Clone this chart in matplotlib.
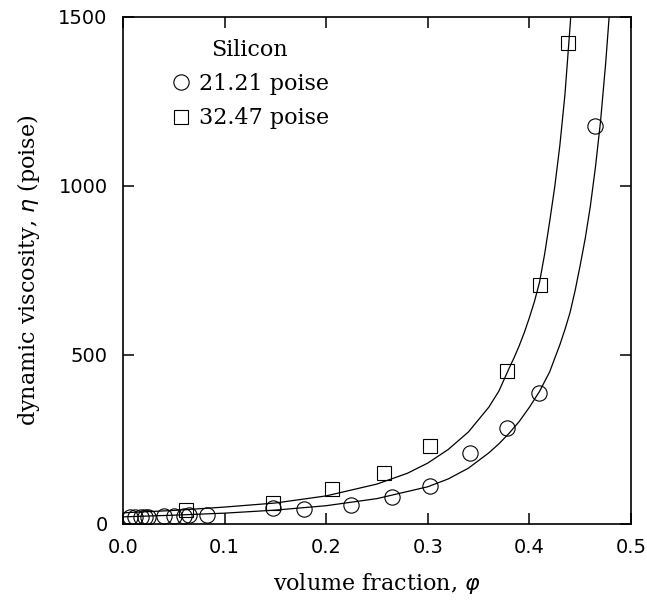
import matplotlib
matplotlib.use("Agg")
import matplotlib.pyplot as plt

# measured points, eta in poise
phi_21 = [0.007, 0.012, 0.018, 0.022, 0.025, 0.040, 0.050, 0.060, 0.065, 0.083,
          0.148, 0.178, 0.224, 0.265, 0.302, 0.342, 0.378, 0.409, 0.465]
eta_21 = [21, 21, 22, 22, 22, 23, 24, 25, 26, 27,
          46, 43, 55, 81, 112, 211, 283, 388, 1176]

phi_32 = [0.062, 0.148, 0.206, 0.257, 0.302, 0.378, 0.410, 0.438]
eta_32 = [42, 62, 102, 150, 230, 453, 706, 1421]

# fitted curves
fit_phi_21 = [0, 0.05, 0.10, 0.15, 0.20, 0.25, 0.30, 0.32, 0.34, 0.36, 0.37,
              0.38, 0.39, 0.40, 0.41, 0.42, 0.43, 0.435, 0.44, 0.445, 0.45,
              0.455, 0.46, 0.465, 0.47, 0.475, 0.48]
fit_eta_21 = [21, 26, 32, 41, 54, 75, 110, 133, 165, 210, 237,
              268, 303, 345, 392, 450, 530, 575, 625, 690, 765,
              845, 940, 1055, 1190, 1360, 1560]

fit_phi_32 = [0, 0.05, 0.10, 0.15, 0.20, 0.25, 0.28, 0.30, 0.32, 0.34, 0.36,
              0.37, 0.38, 0.385, 0.39, 0.395, 0.40, 0.405, 0.41, 0.415, 0.42,
              0.425, 0.43, 0.435, 0.44, 0.445]
fit_eta_32 = [33, 40, 50, 62, 83, 118, 150, 180, 220, 272, 345,
              393, 460, 492, 527, 566, 610, 658, 715, 798, 895,
              998, 1120, 1270, 1470, 1690]

xticks = [0.0, 0.1, 0.2, 0.3, 0.4, 0.5]
yticks = [0, 500, 1000, 1500]

fig = plt.figure(figsize=(6.47, 6.00), dpi=100)
ax = fig.add_axes([0.190, 0.1267, 0.7853, 0.8458])

ax.plot(fit_phi_21, fit_eta_21, color='black', lw=0.9)
ax.plot(fit_phi_32, fit_eta_32, color='black', lw=0.9)
ax.plot(phi_21, eta_21, 'o', ms=11, mfc='none', mec='black', mew=0.8,
        label='21.21 poise')
ax.plot(phi_32, eta_32, 's', ms=9.5, mfc='none', mec='black', mew=0.8,
        label='32.47 poise')

ax.set_xlim(0, 0.5)
ax.set_ylim(0, 1500)
ax.set_xticks(xticks)
ax.set_xticklabels(['%.1f' % t for t in xticks])
ax.set_yticks(yticks)
ax.tick_params(direction='in', top=True, right=True, length=8, width=1.1,
               labelsize=14)
ax.tick_params(axis='x', pad=10)
ax.tick_params(axis='y', pad=11)
for s in ax.spines.values():
    s.set_linewidth(1.2)

serif = 'DejaVu Serif'
ax.set_xlabel(r'volume fraction, $\varphi$', family=serif, fontsize=16,
              labelpad=10)
ax.set_ylabel(r'dynamic viscosity, $\eta$ (poise)', family=serif, fontsize=16,
              labelpad=12)

leg = ax.legend(loc='upper left', bbox_to_anchor=(0.05, 0.995), frameon=False,
                title='Silicon', prop={'family': serif, 'size': 16},
                handletextpad=0.3, labelspacing=0.55, handlelength=1.1)
leg.get_title().set_family(serif)
leg.get_title().set_fontsize(16)

fig.savefig('out.png', dpi=100)
